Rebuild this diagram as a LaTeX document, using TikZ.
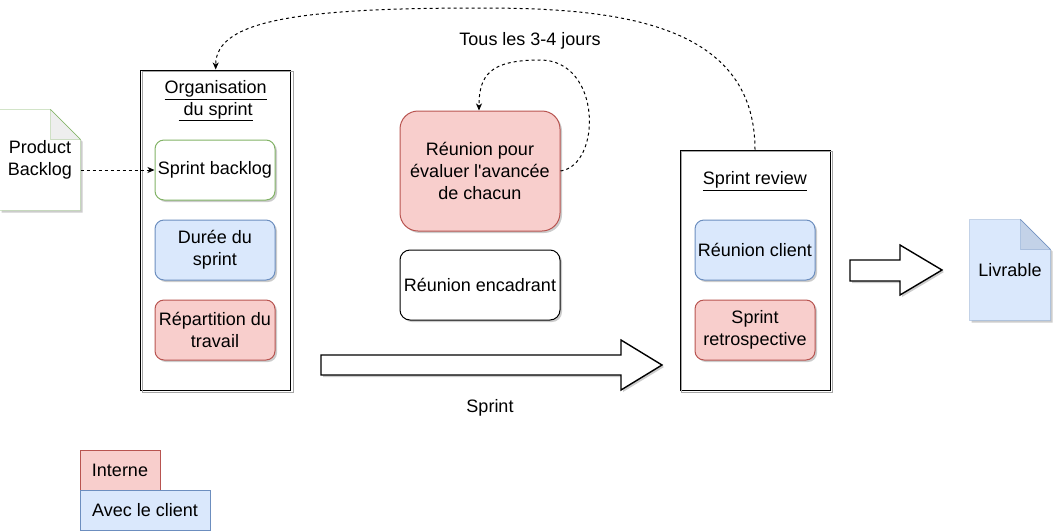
\documentclass[tikz,border=0pt]{standalone}
\usepackage{fontspec}
\setmainfont{Liberation Sans}
\usetikzlibrary{arrows.meta,shadows,backgrounds}

\definecolor{vertbord}{HTML}{82B366}
\definecolor{bleufond}{HTML}{DAE8FC}
\definecolor{bleubord}{HTML}{6C8EBF}
\definecolor{rougefond}{HTML}{F8CECC}
\definecolor{rougebord}{HTML}{B85450}
\definecolor{pli}{HTML}{EEEEEE}
\definecolor{plibleu}{HTML}{C3D2E8}

\begin{document}
\begin{tikzpicture}[x=1pt, y=-1pt, line width=1pt,
    font=\fontsize{18}{21.6}\selectfont,
    ombre/.style={drop shadow={shadow xshift=2pt, shadow yshift=-2pt, fill=black, opacity=0.2}},
    tache/.style={draw, rectangle, rounded corners=9pt, minimum width=120pt, minimum height=60pt, align=center, inner sep=2pt, ombre},
    interne/.style={tache, fill=rougefond, draw=rougebord},
    client/.style={tache, fill=bleufond, draw=bleubord},
    cadre/.style={draw, rectangle, minimum width=150pt},
    note/.style={rectangle, minimum width=80pt, minimum height=100pt, align=center, inner sep=0pt},
    legende/.style={draw, rectangle, minimum height=40pt, align=center},
    lien/.style={dash pattern=on 3pt off 3pt, -{Stealth[length=7pt,width=6pt,inset=2pt]}},
    bloc/.style={draw, fill=white, line width=1.4pt, ombre}]

    \useasboundingbox (0,0) rectangle (1053,531);

    % Organisation du sprint
    \node[cadre, minimum height=320pt] (org) at (215.7,230) {};
    \draw[black!35, line width=0.6pt] ([shift={(2,2)}]org.north west) rectangle ([shift={(2,2)}]org.south east);
    \node[align=center] (orgtitre) at (215.7,101) {\underline{Organisation}\\\underline{\ du sprint}};
    \node[tache, fill=white, draw=vertbord] (sb) at (215,170) {Sprint backlog};
    \node[client] (dur) at (215,250) {Durée du\\sprint};
    \node[interne] (rep) at (215,330) {Répartition du\\travail};

    % Product Backlog
    \node[note] (pb) at (40,160) {Product\\Backlog};
    \begin{scope}[on background layer]
        \draw[vertbord, fill=white, ombre] (pb.north west) -- ([xshift=-30pt]pb.north east) -- ([yshift=-30pt]pb.north east) -- (pb.south east) -- (pb.south west) -- cycle;
        \filldraw[draw=vertbord, fill=pli] ([xshift=-30pt]pb.north east) -- ([shift={(-30pt,-30pt)}]pb.north east) -- ([yshift=-30pt]pb.north east) -- cycle;
    \end{scope}

    % Arrows
    \draw[lien] (pb.east |- sb.west) -- (sb.west);

    % Reunions
    \node[interne, rounded corners=18pt, minimum width=160pt, minimum height=120pt] (rpe) at (480,171) {Réunion pour\\évaluer l\textquotesingle avancée\\de chacun};
    \node[tache, fill=white, rounded corners=10pt, minimum width=160pt, minimum height=70pt] (renc) at (480,285) {Réunion encadrant};
    \node (freq) at (530,41) {Tous les 3-4 jours};
    \coordinate (boucle) at (540,60);
    \draw[lien] (rpe.east) .. controls (602,165) and (602,60) .. (boucle) .. controls (490,60) and (479,75) .. ([xshift=-1pt]rpe.north);

    % Sprint
    \filldraw[bloc] (321,355) -- (621,355) -- (621,340) -- (662,365) -- (621,390) -- (621,375) -- (321,375) -- cycle;
    \node (sprint) at (490,408) {Sprint};

    % Sprint review
    \node[cadre, minimum height=240pt] (srv) at (755,270) {};
    \draw[black!35, line width=0.6pt] ([shift={(2,2)}]srv.north west) rectangle ([shift={(2,2)}]srv.south east);
    \node (srvtitre) at (755,181) {\underline{Sprint review}};
    \node[client] (rc) at (755,250) {Réunion client};
    \node[interne] (sr) at (755,330) {Sprint\\retrospective};

    % Retour
    \coordinate (haut) at (480,8);
    \draw[lien] (srv.north) .. controls (755,20) and (610,8) .. (haut) .. controls (300,8) and (215.7,20) .. (org.north);

    % Livrable
    \filldraw[bloc] (850,260) -- (900,260) -- (900,245) -- (942,270) -- (900,295) -- (900,281) -- (850,281) -- cycle;
    \node[note] (liv) at (1010,270) {Livrable};
    \begin{scope}[on background layer]
        \draw[bleubord, fill=bleufond, ombre] (liv.north west) -- ([xshift=-30pt]liv.north east) -- ([yshift=-30pt]liv.north east) -- (liv.south east) -- (liv.south west) -- cycle;
        \filldraw[draw=bleubord, fill=plibleu] ([xshift=-30pt]liv.north east) -- ([shift={(-30pt,-30pt)}]liv.north east) -- ([yshift=-30pt]liv.north east) -- cycle;
    \end{scope}

    % Legende
    \node[legende, fill=rougefond, draw=rougebord, minimum width=80pt] (leg1) at (120,470) {Interne};
    \node[legende, fill=bleufond, draw=bleubord, minimum width=130pt] (leg2) at (145,510) {Avec le client};
\end{tikzpicture}
\end{document}
